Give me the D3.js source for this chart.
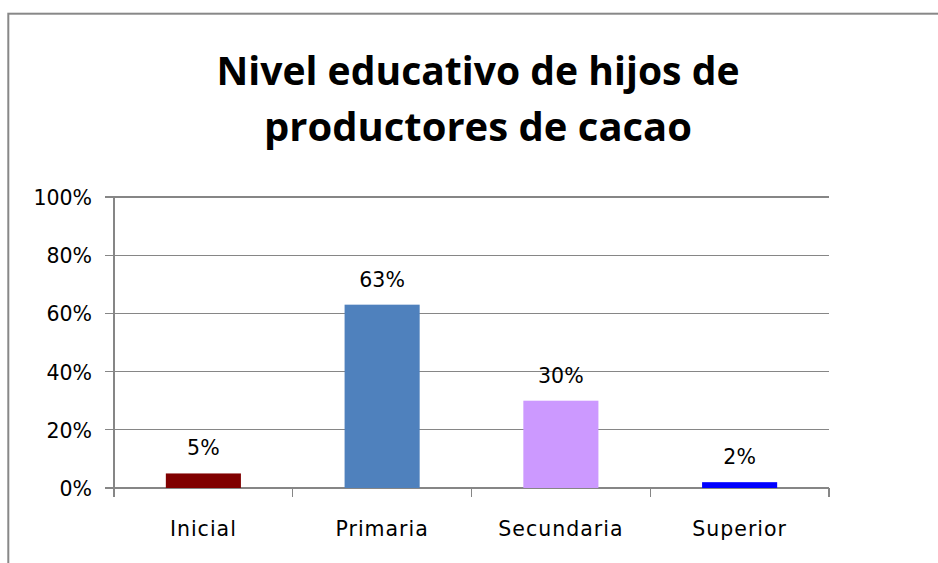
<!DOCTYPE html>
<html><head><meta charset="utf-8">
<script src="https://cdn.jsdelivr.net/npm/d3@7/dist/d3.min.js"></script>
<style>body{margin:0;background:#fff}svg{display:block}</style>
</head><body>
<svg id="c" width="938" height="563"></svg>
<script>
const categories = ["Inicial", "Primaria", "Secundaria", "Superior"];
const values = [5, 63, 30, 2];
const colors = ["#800000", "#4F81BD", "#CC99FF", "#0000FF"];
const yTicks = [0, 20, 40, 60, 80, 100];
const titleLines = ["Nivel educativo de hijos de", "productores de cacao"];

(function () {
const svg = d3.select("#c");
const W = 938, H = 563;
svg.append("rect").attr("width", W).attr("height", H).attr("fill", "#fff");
// outer border (extends beyond the visible area)
svg.append("rect").attr("x", 8.3).attr("y", 13.7).attr("width", 1200).attr("height", 1200)
  .attr("fill", "none").attr("stroke", "#888").attr("stroke-width", 2);

const pLeft = 114, pRight = 829, pTop = 197, pBottom = 488;
const x = d3.scaleBand().domain(categories).range([pLeft, pRight]).paddingInner(0.58).paddingOuter(0.29);
const xb = d3.scaleBand().domain(categories).range([pLeft, pRight]);
const y = d3.scaleLinear().domain([0, 100]).range([pBottom, pTop]);
const grey = "#868686";
const font = "'DejaVu Sans', sans-serif";

// gridlines
svg.append("g").selectAll("line").data(yTicks).join("line")
  .attr("x1", pLeft - 9).attr("x2", pRight).attr("y1", d => y(d)).attr("y2", d => y(d))
  .attr("stroke", grey).attr("stroke-width", 1.2).attr("shape-rendering", "crispEdges");
// y axis line
svg.append("line").attr("x1", pLeft).attr("x2", pLeft).attr("y1", pTop).attr("y2", pBottom + 9)
  .attr("stroke", grey).attr("stroke-width", 1.2).attr("shape-rendering", "crispEdges");
// y tick labels
svg.append("g").selectAll("text").data(yTicks).join("text")
  .attr("x", 92).attr("y", d => y(d) + 8).attr("text-anchor", "end")
  .attr("font-family", font).attr("font-size", 20.5).attr("fill", "#000")
  .text(d => d + "%");

// x ticks at category boundaries
const bounds = categories.map(c => xb(c)).concat([pRight]);
svg.append("g").selectAll("line").data(bounds).join("line")
  .attr("x1", d => d).attr("x2", d => d).attr("y1", pBottom).attr("y2", pBottom + 9)
  .attr("stroke", grey).attr("stroke-width", 1.2).attr("shape-rendering", "crispEdges");

// bars
svg.append("g").selectAll("rect").data(values).join("rect")
  .attr("x", (d, i) => x(categories[i])).attr("width", x.bandwidth())
  .attr("y", d => y(d)).attr("height", d => pBottom - y(d))
  .attr("fill", (d, i) => colors[i]);

// data labels
svg.append("g").selectAll("text").data(values).join("text")
  .attr("x", (d, i) => x(categories[i]) + x.bandwidth() / 2).attr("y", d => y(d) - 18)
  .attr("text-anchor", "middle").attr("font-family", font).attr("font-size", 20.5)
  .text(d => d + "%");

// category labels
svg.append("g").selectAll("text").data(categories).join("text")
  .attr("x", d => xb(d) + xb.bandwidth() / 2).attr("y", 536)
  .attr("text-anchor", "middle").attr("font-family", font).attr("font-size", 20.5)
  .attr("letter-spacing", 1)
  .text(d => d);

// title
const tW = [523, 428];
svg.append("g").selectAll("text").data(titleLines).join("text")
  .attr("x", 478).attr("y", (d, i) => i === 0 ? 85 : 141)
  .attr("text-anchor", "middle").attr("font-family", "'Open Sans', sans-serif")
  .attr("font-weight", "bold").attr("font-size", 39)
  .attr("textLength", (d, i) => tW[i]).attr("lengthAdjust", "spacingAndGlyphs")
  .text(d => d);
})();
</script>
</body></html>
